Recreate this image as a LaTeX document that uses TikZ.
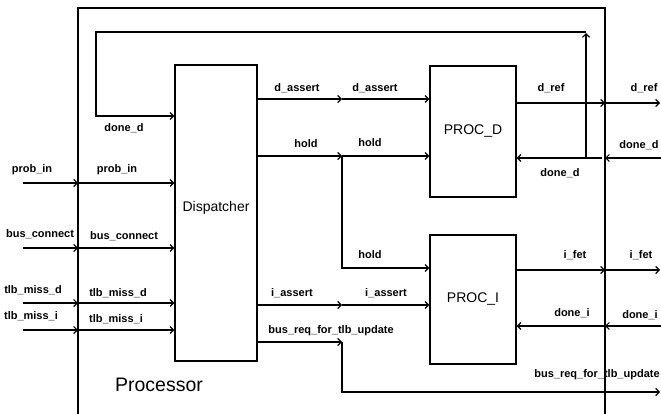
\documentclass[tikz,border=0pt]{standalone}
\usepackage{fontspec}
\setmainfont{Liberation Sans}
\usetikzlibrary{arrows.meta}
\begin{document}
\begin{tikzpicture}[x=1pt,y=-1pt,
  wire/.style={line width=1.2pt},
  sig/.style={wire,-{Straight Barb[length=3.5pt,width=7pt,line width=1.2pt]}},
  blk/.style={draw,line width=1.2pt,inner sep=0pt,fill=white},
  lbl/.style={font=\bfseries\fontsize{11}{13}\selectfont,inner sep=0pt},
  big/.style={font=\fontsize{14}{16}\selectfont,inner sep=0pt},
]
\useasboundingbox (0,0) rectangle (661,414);
% frame (open at the bottom)
\coordinate (fbl) at (78,420);
\coordinate (ftl) at (78,8);
\coordinate (ftr) at (605,8);
\coordinate (fbr) at (605,420);
\draw[line width=1.4pt] (fbl) -- (ftl) -- (ftr) -- (fbr);

% blocks
\node[blk, minimum width=82pt, minimum height=296pt] (disp) at (216,213) {};
\node[big] (disptxt) at (216,208) {Dispatcher};
\node[blk, big, minimum width=86pt, minimum height=131pt] (pd) at (473,131.5) {PROC\_D};
\node[blk, big, minimum width=86pt, minimum height=129pt] (pi) at (473,299.5) {PROC\_I};
\node[font=\fontsize{19.5}{22}\selectfont,inner sep=0pt] (proc) at (159,385) {Processor};

% left inputs
\foreach \n/\y in {pin/183, bc/248, tmd/303, tmi/330}{
  \coordinate (\n0) at (23,\y);
  \coordinate (\n1) at (78,\y);
  \draw[sig] (\n0) -- (\n1);
  \draw[sig] (\n1) -- (disp.west |- \n1);
}
\node[lbl] (l1) at (32,170) {prob\_in};
\node[lbl] (l2) at (117,170) {prob\_in};
\node[lbl] (l3) at (40,234) {bus\_connect};
\node[lbl] (l4) at (124,236) {bus\_connect};
\node[lbl] (l5) at (33,290) {tlb\_miss\_d};
\node[lbl] (l6) at (118,293) {tlb\_miss\_d};
\node[lbl] (l7) at (31,316) {tlb\_miss\_i};
\node[lbl] (l8) at (116,319) {tlb\_miss\_i};

% feedback done_d loop
\coordinate (fb) at (586,158);
\coordinate (fbt) at (586,33);
\coordinate (fbtop) at (586,32);
\coordinate (fbl2) at (96,116);
\draw[sig] (fb) -- (fbt);
\draw[sig] (fbtop) -| (fbl2) -- (disp.west |- fbl2);
\node[lbl] (l9) at (124,128) {done\_d};

% d_assert
\coordinate (da) at (342,99);
\draw[sig] (disp.east |- da) -- (da);
\draw[sig] (da) -- (pd.west |- da);
\node[lbl] (l10) at (297,88) {d\_assert};
\node[lbl] (l11) at (375,88) {d\_assert};

% hold
\coordinate (hj) at (342,156);
\coordinate (hb) at (342,268);
\draw[sig] (disp.east |- hj) -- (hj);
\draw[sig] (hj) -- (pd.west |- hj);
\draw[sig] (hj) -- (hb) -- (pi.west |- hb);
\node[lbl] (l12) at (306,144) {hold};
\node[lbl] (l13) at (370,143) {hold};
\node[lbl] (l14) at (370,255) {hold};

% i_assert
\coordinate (ia) at (342,305);
\draw[sig] (disp.east |- ia) -- (ia);
\draw[sig] (ia) -- (pi.west |- ia);
\node[lbl] (l15) at (292,293) {i\_assert};
\node[lbl] (l16) at (386,293) {i\_assert};

% bus_req_for_tlb_update
\coordinate (br) at (342,342);
\coordinate (brb) at (342,392);
\coordinate (bro) at (660,392);
\draw[sig] (disp.east |- br) -- (br);
\draw[sig] (br) -- (brb) -- (bro);
\node[lbl] (l17) at (331,331) {bus\_req\_for\_tlb\_update};
\node[lbl] (l18) at (597,375) {bus\_req\_for\_tlb\_update};

% d_ref
\coordinate (dr1) at (605,103);
\coordinate (dr2) at (660,103);
\draw[sig] (pd.east |- dr1) -- (dr1);
\draw[sig] (dr1) -- (dr2);
\node[lbl] (l19) at (551,88) {d\_ref};
\node[lbl] (l20) at (644,88) {d\_ref};

% done_d
\coordinate (dd0) at (661,158);
\coordinate (dd1) at (605,158);
\coordinate (dd2) at (602,158);
\draw[sig] (dd0) -- (dd1);
\draw[sig] (dd2) -- (pd.east |- dd2);
\node[lbl] (l21) at (560,173) {done\_d};
\node[lbl] (l22) at (639,145) {done\_d};

% i_fet
\coordinate (if1) at (605,270);
\coordinate (if2) at (660,270);
\draw[sig] (pi.east |- if1) -- (if1);
\draw[sig] (if1) -- (if2);
\node[lbl] (l23) at (575,255) {i\_fet};
\node[lbl] (l24) at (641,255) {i\_fet};

% done_i
\coordinate (di0) at (661,326);
\coordinate (di1) at (605,326);
\draw[sig] (di0) -- (di1);
\draw[sig] (di1) -- (pi.east |- di1);
\node[lbl] (l25) at (572,313) {done\_i};
\node[lbl] (l26) at (640,315) {done\_i};
\end{tikzpicture}
\end{document}
